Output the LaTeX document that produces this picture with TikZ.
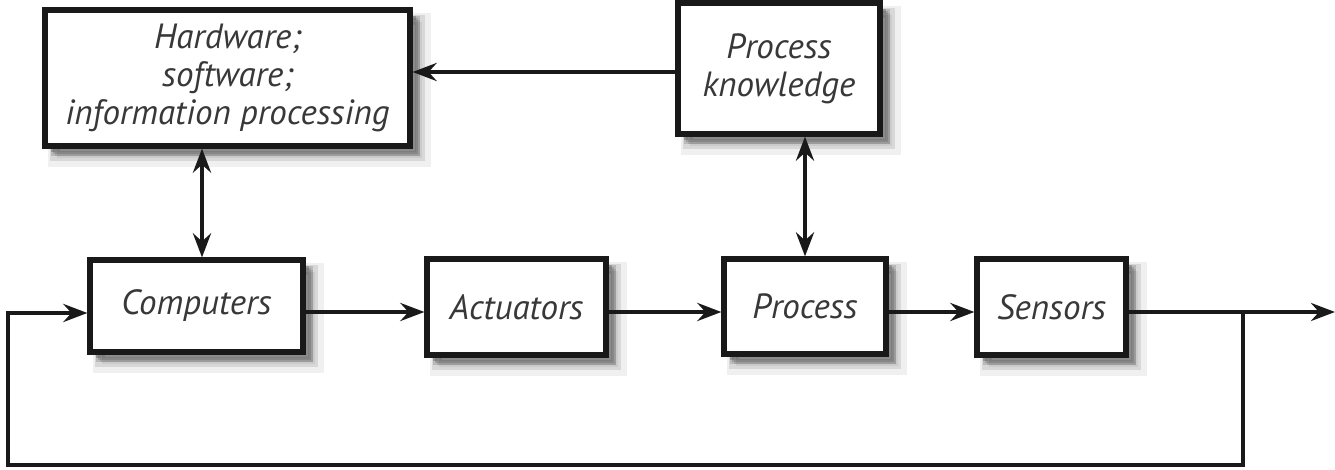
\documentclass[tikz,border=0pt]{standalone}
\usepackage{fontspec}
\setmainfont{PT Sans}
\usetikzlibrary{arrows.meta}
\begin{document}
\begin{tikzpicture}[x=0.5pt,y=-0.5pt,
  box/.style={draw=black!90, line width=2.6pt, fill=white, align=center,
    font=\fontsize{17.5}{19}\selectfont\itshape, text=black!78,
    preaction={draw=black, draw opacity=0.06, line width=9pt, fill=black, fill opacity=0.06, transform canvas={shift={(6pt,-6pt)}}},
    preaction={draw=black, draw opacity=0.10, line width=5pt, fill=black, fill opacity=0.10, transform canvas={shift={(5pt,-5pt)}}},
    preaction={draw=black, draw opacity=0.14, line width=2pt, fill=black, fill opacity=0.14, transform canvas={shift={(4pt,-4pt)}}},
    preaction={draw=none, fill=black, fill opacity=0.2, transform canvas={shift={(3pt,-3pt)}}}},
  conn/.style={line width=2pt, draw=black!90},
  tip/.style={-{Stealth[length=12pt,width=9pt,inset=4pt]}},
  dtip/.style={{Stealth[length=12pt,width=9pt,inset=4pt]}-{Stealth[length=12pt,width=9pt,inset=4pt]}}
]
\useasboundingbox (0,0) rectangle (1335,470);
\node[box, minimum width=182.5pt, minimum height=68pt] (hw) at (227.5,78) {Hardware;\\software;\\information processing};
\node[box, minimum width=101pt, minimum height=65.5pt] (pk) at (779,68.5) {Process\\knowledge};
\node[box, minimum width=106.5pt, minimum height=46pt] (comp) at (196.5,306) {Computers};
\node[box, minimum width=89.5pt, minimum height=48pt] (act) at (516.5,307) {Actuators};
\node[box, minimum width=81pt, minimum height=47.5pt] (proc) at (805,306.5) {Process};
\node[box, minimum width=74.5pt, minimum height=48pt] (sens) at (1051.5,307) {Sensors};
\coordinate (r) at (0,312);
\coordinate (out) at (1335,312);
\coordinate (fb) at (1243,312);
\coordinate (fbb) at (1243,465);
\coordinate (lb) at (8,465);
\coordinate (lt) at (8,313);
\coordinate (hwx) at (202,0);
\draw[conn,tip] (pk.west |- 0,72) -- (hw.east |- 0,72);
\draw[conn,dtip] (hw.south -| hwx) -- (comp.north -| hwx);
\draw[conn,dtip] (pk.south -| proc.north) -- (proc.north);
\draw[conn,tip] (comp.east |- r) -- (act.west |- r);
\draw[conn,tip] (act.east |- r) -- (proc.west |- r);
\draw[conn,tip] (proc.east |- r) -- (sens.west |- r);
\draw[conn,tip] (sens.east |- r) -- (out);
\draw[conn,tip,line join=miter] (fb) -- (fbb) -- (lb) -- (lt) -- (comp.west |- lt);
\end{tikzpicture}
\end{document}
